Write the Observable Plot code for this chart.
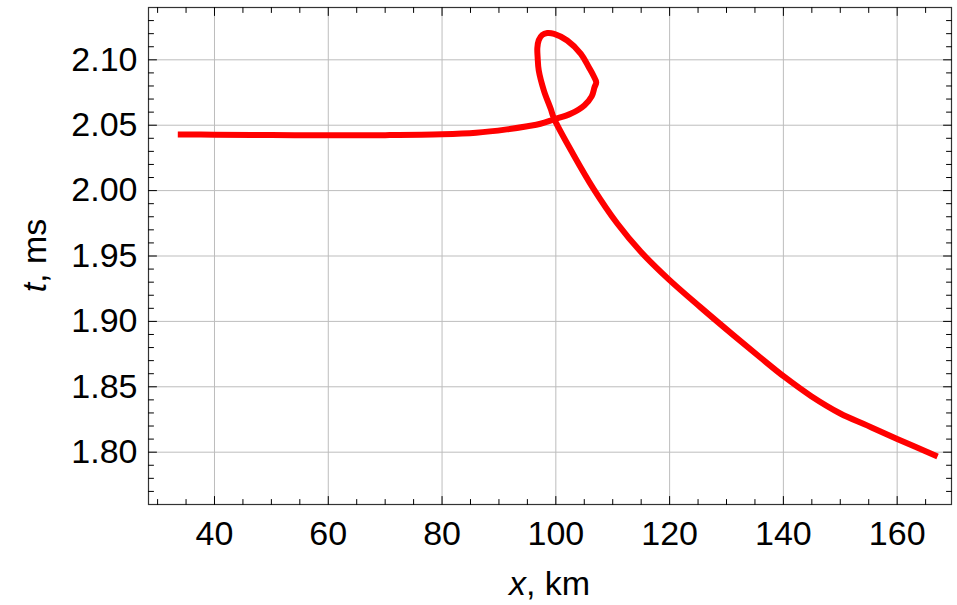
<!DOCTYPE html>
<html><head><meta charset="utf-8">
<script src="https://cdn.jsdelivr.net/npm/d3@7"></script>
<script src="https://cdn.jsdelivr.net/npm/@observablehq/plot@0.6"></script>
<style>body{margin:0;background:#fff}</style>
</head><body><div id="chart"></div>
<script>
// Curve (traveltime branch with a loop), in drawing order
const xKm = [33.55, 40, 50, 60, 70, 80, 86, 91.4, 95, 97.3, 99.7, 102.6, 105.0, 106.3, 106.8, 107.1, 106.6, 105.8, 104.4, 102.0, 99.7, 98.5, 97.6, 97.0, 96.75, 96.8, 97.0, 97.9, 99.1, 99.7, 103.1, 106.6, 110.8, 114.9, 119.8, 125.4, 131.2, 136.0, 140.2, 144.9, 150.0, 154.8, 160.1, 167.1];
const tMs = [2.0429, 2.0428, 2.0425, 2.0423, 2.0424, 2.0430, 2.0442, 2.0468, 2.0492, 2.0511, 2.0545, 2.0587, 2.0651, 2.0720, 2.0790, 2.0828, 2.0880, 2.0943, 2.1046, 2.1148, 2.1199, 2.1205, 2.1190, 2.1150, 2.1090, 2.1020, 2.0918, 2.0765, 2.0625, 2.0549, 2.0274, 2.0015, 1.9748, 1.9534, 1.9323, 1.9109, 1.8895, 1.8722, 1.8575, 1.8428, 1.8296, 1.8203, 1.8099, 1.7967];

const xMajor = [40, 60, 80, 100, 120, 140, 160];
const xMinor = [30, 35, 45, 50, 55, 65, 70, 75, 85, 90, 95, 105, 110, 115, 125, 130, 135, 145, 150, 155, 165];
const yMajor = [1.80, 1.85, 1.90, 1.95, 2.00, 2.05, 2.10];
const yMinor = [1.77, 1.78, 1.79, 1.81, 1.82, 1.83, 1.84, 1.86, 1.87, 1.88, 1.89, 1.91, 1.92, 1.93, 1.94, 1.96, 1.97, 1.98, 1.99, 2.01, 2.02, 2.03, 2.04, 2.06, 2.07, 2.08, 2.09, 2.11, 2.12, 2.13];
const xDomain = [28.4, 169.55];
const yDomain = [1.760, 2.140];

const pts = xKm.map((x, i) => ({x, t: tMs[i]}));
const tickShape = {draw(ctx, l) { ctx.moveTo(0, 0); ctx.lineTo(0, -l); }};
const tk = (vals, axis, anchor, rot, len) => (axis === "x" ? Plot.vectorX : Plot.vectorY)(vals, {
  frameAnchor: anchor, rotate: rot, length: len, anchor: "start", shape: tickShape, stroke: "#000", strokeWidth: 1
});

const plot = Plot.plot({
  width: 957, height: 605,
  marginLeft: 148, marginRight: 6, marginTop: 7, marginBottom: 101,
  style: {fontFamily: "'Liberation Sans', Arial, sans-serif", fontSize: "34px", color: "#000", background: "#fff"},
  x: {domain: xDomain},
  y: {domain: yDomain},
  marks: [
    Plot.gridX(xMajor, {stroke: "#bdbdbd", strokeOpacity: 1, strokeWidth: 1}),
    Plot.gridY(yMajor, {stroke: "#bdbdbd", strokeOpacity: 1, strokeWidth: 1}),
    Plot.line(pts, {x: "x", y: "t", stroke: "#ff0000", strokeWidth: 6, curve: "catmull-rom", strokeLinecap: "butt"}),
    Plot.frame({stroke: "#333", strokeWidth: 1.2}),
    tk(xMajor, "x", "bottom", 0, 8), tk(xMinor, "x", "bottom", 0, 5),
    tk(xMajor, "x", "top", 180, 8), tk(xMinor, "x", "top", 180, 5),
    tk(yMajor, "y", "left", 90, 8), tk(yMinor, "y", "left", 90, 5),
    tk(yMajor, "y", "right", -90, 8), tk(yMinor, "y", "right", -90, 5),
    Plot.axisX({ticks: xMajor, tickSize: 0, tickPadding: 16, label: null, tickFormat: d3.format("d")}),
    Plot.axisY({ticks: yMajor, tickSize: 0, tickPadding: 11, label: null, tickFormat: d3.format(".2f")})
  ]
});
document.getElementById("chart").appendChild(plot);

const svg = d3.select(plot);
const xr = plot.scale("x").range, yr = plot.scale("y").range;
const xl = svg.append("text").attr("x", (xr[0] + xr[1]) / 2).attr("y", 595)
  .attr("text-anchor", "middle").attr("fill", "#000").style("font-size", "34px");
xl.append("tspan").attr("font-style", "italic").text("x");
xl.append("tspan").text(", km");
const yl = svg.append("text").attr("transform", `translate(46,${(yr[0] + yr[1]) / 2}) rotate(-90)`)
  .attr("text-anchor", "middle").attr("fill", "#000").style("font-size", "34px");
yl.append("tspan").attr("font-style", "italic").text("t");
yl.append("tspan").text(", ms");
</script>
</body></html>
